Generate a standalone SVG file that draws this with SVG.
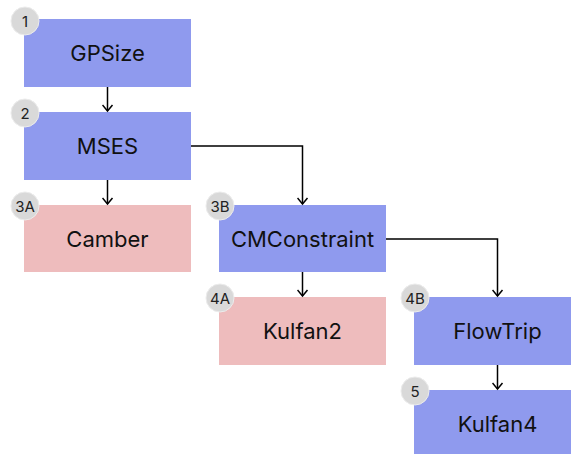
<svg xmlns="http://www.w3.org/2000/svg" width="571" height="454" viewBox="0 0 571 454">
<style>
.blue{fill:#8f9aee}
.pink{fill:#eebcbd}
.lbl{font-family:Inter,"Liberation Sans",sans-serif;font-size:22px;fill:#111;text-anchor:middle;dominant-baseline:central}
.badge{fill:#d9d9d9;stroke:#ececec;stroke-width:1}
.bt{font-family:Inter,"Liberation Sans",sans-serif;font-size:15px;fill:#222;text-anchor:middle;dominant-baseline:central}
.conn{fill:none;stroke:#000;stroke-width:1.5}
</style>
<defs>
<marker id="arr" viewBox="0 0 12 12" refX="10" refY="6" markerWidth="12" markerHeight="12" markerUnits="userSpaceOnUse" orient="auto">
<polyline points="4,1 10,6 4,11" fill="none" stroke="#000" stroke-width="1.5"/>
</marker>
</defs>
<g id="n1"><rect class="blue" x="24" y="19" width="167" height="68"/><text class="lbl" x="107.5" y="53">GPSize</text></g>
<g id="n2"><rect class="blue" x="24" y="112" width="167" height="68"/><text class="lbl" x="107.5" y="146">MSES</text></g>
<g id="n3a"><rect class="pink" x="24" y="205" width="167" height="67"/><text class="lbl" x="107.5" y="239">Camber</text></g>
<g id="n3b"><rect class="blue" x="219" y="205" width="167" height="67"/><text class="lbl" x="302.5" y="239">CMConstraint</text></g>
<g id="n4a"><rect class="pink" x="219" y="297" width="167" height="68"/><text class="lbl" x="302.5" y="331">Kulfan2</text></g>
<g id="n4b"><rect class="blue" x="414" y="297" width="167" height="68"/><text class="lbl" x="497.5" y="331">FlowTrip</text></g>
<g id="n5"><rect class="blue" x="414" y="390" width="167" height="68"/><text class="lbl" x="497.5" y="424">Kulfan4</text></g>
<g id="connectors">
<path class="conn" d="M107.5,87 V111" marker-end="url(#arr)"/>
<path class="conn" d="M107.5,180 V204" marker-end="url(#arr)"/>
<path class="conn" d="M191,146 H302.5 V204" marker-end="url(#arr)"/>
<path class="conn" d="M302.5,272 V296" marker-end="url(#arr)"/>
<path class="conn" d="M386,239 H497.5 V296" marker-end="url(#arr)"/>
<path class="conn" d="M497.5,365 V389" marker-end="url(#arr)"/>
</g>
<g id="badges">
<circle class="badge" cx="25" cy="21" r="14"/><text class="bt" x="25" y="21">1</text>
<circle class="badge" cx="25" cy="113" r="14"/><text class="bt" x="25" y="113">2</text>
<circle class="badge" cx="25" cy="206" r="14"/><text class="bt" x="25" y="206">3A</text>
<circle class="badge" cx="220" cy="206" r="14"/><text class="bt" x="220" y="206">3B</text>
<circle class="badge" cx="220" cy="298" r="14"/><text class="bt" x="220" y="298">4A</text>
<circle class="badge" cx="415" cy="298" r="14"/><text class="bt" x="415" y="298">4B</text>
<circle class="badge" cx="415" cy="391" r="14"/><text class="bt" x="415" y="391">5</text>
</g>
</svg>
